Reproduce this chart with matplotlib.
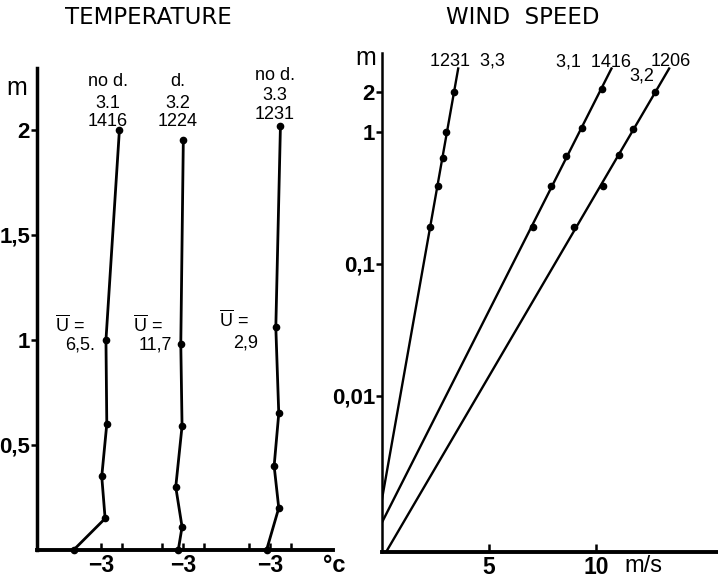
import numpy as np
import matplotlib
matplotlib.use('Agg')
import matplotlib.pyplot as plt

plt.rcParams['font.family'] = ['Liberation Sans', 'DejaVu Sans']

# temperature profiles (height m, temperature degC)
heights_31 = [2.0, 1.0, 0.6, 0.35, 0.15, 0.0]
temp_31 = [-2.56, -2.88, -2.86, -2.98, -2.90, -3.65]
heights_32 = [1.95, 0.98, 0.59, 0.30, 0.11, 0.0]
temp_32 = [-2.99, -3.05, -3.02, -3.17, -3.02, -3.11]
heights_33 = [2.02, 1.06, 0.65, 0.40, 0.20, 0.0]
temp_33 = [-2.75, -2.86, -2.79, -2.90, -2.79, -3.08]
profile_heads = [('no d.', '3.1', '1416'), ('d.', '3.2', '1224'), ('no d.', '3.3', '1231')]
mean_wind = ['6,5.', '11,7', '2,9']

# wind profiles (height m, speed m/s)
heights_1231 = [2.0, 1.0, 0.63, 0.39, 0.19]
speed_1231 = [3.38, 2.99, 2.86, 2.60, 2.24]
heights_1416 = [2.1, 1.06, 0.65, 0.39, 0.19]
speed_1416 = [10.27, 9.33, 8.60, 7.90, 7.04]
heights_1206 = [2.0, 1.05, 0.66, 0.39, 0.19]
speed_1206 = [12.76, 11.71, 11.09, 10.34, 8.99]

W, H = 718, 580
def fx(x):
    return x / W
def fy(y):
    return 1 - y / H

fig = plt.figure(figsize=(7.18, 5.8), dpi=100)

# ---------------- temperature ----------------
ax1 = fig.add_axes([fx(37), fy(550), 296 / W, 482 / H])
offsets = [0.0, 1.95, 4.02]   # horizontal shift of each profile
profiles = [(temp_31, heights_31), (temp_32, heights_32), (temp_33, heights_33)]
for off, (t, z) in zip(offsets, profiles):
    ax1.plot(np.array(t) + off, z, color='black', lw=2.0, marker='o', ms=4.5,
             clip_on=False, zorder=3)

ax1.set_xlim(-4.52, 2.52)
ax1.set_ylim(0, 2.295)
for s in ['top', 'right']:
    ax1.spines[s].set_visible(False)
ax1.spines['left'].set_linewidth(2.5)
ax1.spines['bottom'].set_linewidth(2.8)

ax1.set_yticks([0.5, 1, 1.5, 2])
ax1.set_yticklabels(['0,5', '1', '1,5', '2'], fontweight='bold')
ax1.set_xticks([-3 + o for o in offsets])
ax1.set_xticklabels(['\u22123'] * 3, fontweight='bold')
ax1.set_xticks([-2.5, -3.5 + offsets[1], -2.5 + offsets[1],
                -3.5 + offsets[2], -2.5 + offsets[2]], minor=True)
ax1.tick_params(axis='y', direction='out', length=4, width=1.8, labelsize=16, pad=1)
ax1.tick_params(axis='x', which='both', direction='in', length=5, width=1.8,
                labelsize=16.5, pad=3)

fig.text(fx(148), fy(17), 'TEMPERATURE', fontsize=16.5, ha='center', va='center',
         family='DejaVu Sans')
fig.text(fx(17), fy(88), 'm', fontsize=18, ha='center', va='center')
fig.text(fx(334), fy(566), '°c', fontsize=17, ha='center', va='center', fontweight='bold')

head_x = [108, 178, 275]
head_y = [(82, 103, 122), (82, 103, 122), (75, 96, 114)]
for x, lab, ys in zip(head_x, profile_heads, head_y):
    for txt, yy in zip(lab, ys):
        fig.text(fx(x), fy(yy), txt, fontsize=13, ha='center', va='center')

u_pos = [(55, 65), (133, 139), (219, 233)]
u_y = [(325, 345), (325, 345), (320, 343)]
for (x1, x2), (y1, y2), val in zip(u_pos, u_y, mean_wind):
    fig.text(fx(x1), fy(y1), r'$\mathregular{\overline{U}}$ =', fontsize=13,
             ha='left', va='center')
    fig.text(fx(x2), fy(y2), val, fontsize=13, ha='left', va='center')

# ---------------- wind speed ----------------
ax2 = fig.add_axes([fx(382), fy(552), 336 / W, 499 / H])
ax2.set_yscale('log')
for z, u in [(heights_1231, speed_1231), (heights_1416, speed_1416),
             (heights_1206, speed_1206)]:
    logz = np.log10(z)
    a, b = np.polyfit(logz, u, 1)
    zz = np.logspace(-b / a, np.log10(3.0), 50)
    ax2.plot(a * np.log10(zz) + b, zz, color='black', lw=1.7)
    ax2.plot(u, z, 'o', color='black', ms=4.5)

ax2.set_xlim(0, 336 / 21.4)
ax2.set_ylim(6.6e-4, 3.93)
for s in ['top', 'right']:
    ax2.spines[s].set_visible(False)
ax2.spines['left'].set_linewidth(1.8)
ax2.spines['bottom'].set_linewidth(2.8)
ax2.set_yticks([0.01, 0.1, 1, 2])
ax2.set_yticklabels(['0,01', '0,1', '1', '2'], fontweight='bold')
ax2.yaxis.set_minor_locator(matplotlib.ticker.NullLocator())
ax2.set_xticks([5, 10])
ax2.set_xticklabels(['5', '10'], fontweight='bold')
ax2.tick_params(axis='y', direction='out', length=4, width=1.8, labelsize=16, pad=1)
ax2.tick_params(axis='x', direction='in', length=6, width=1.8, labelsize=16.5, pad=3)

fig.text(fx(523), fy(17), 'WIND  SPEED', fontsize=16.5, ha='center', va='center',
         family='DejaVu Sans')
fig.text(fx(366), fy(58), 'm', fontsize=18, ha='center', va='center')
fig.text(fx(643), fy(566), 'm/s', fontsize=17, ha='center', va='center')
fig.text(fx(467), fy(61), '1231  3,3', fontsize=13, ha='center', va='center')
fig.text(fx(594), fy(62), '3,1  1416', fontsize=13, ha='center', va='center')
fig.text(fx(642), fy(76), '3,2', fontsize=13, ha='center', va='center')
fig.text(fx(671), fy(62), '1206', fontsize=13, ha='center', va='center')

fig.savefig('out.png', dpi=100)
